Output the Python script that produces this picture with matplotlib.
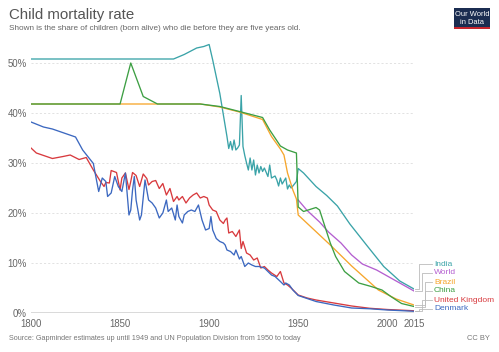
import matplotlib
matplotlib.use("Agg")
import matplotlib.pyplot as plt
from matplotlib.lines import Line2D
from matplotlib.patches import Rectangle

plt.rcParams['font.family'] = ['Liberation Sans', 'DejaVu Sans']

india_years = [1800, 1880, 1886, 1893, 1897, 1900, 1902, 1906, 1910, 1911, 1912, 1913, 1914, 1915, 1916, 1917,
               1918, 1919, 1920, 1921, 1922, 1923, 1924, 1925, 1926, 1927, 1928, 1929, 1930, 1931, 1933, 1934,
               1935, 1937, 1938, 1939, 1940, 1941, 1943, 1944, 1945, 1946, 1947, 1949, 1950, 1953, 1960, 1966,
               1972, 1979, 1989, 1998, 2007, 2015]
india_vals = [50.8, 50.8, 51.7, 53.0, 53.3, 53.7, 50.6, 43.9, 35.3, 32.9, 34.3, 32.6, 34.6, 32.6, 33.0, 33.6,
              43.5, 33.3, 31.5, 30.0, 28.6, 31.0, 28.6, 30.6, 27.6, 29.6, 28.0, 29.3, 28.3, 29.0, 27.3, 29.6,
              27.0, 27.4, 26.6, 25.4, 27.0, 25.8, 27.0, 24.8, 25.6, 25.0, 25.4, 26.3, 28.9, 28.0, 25.3, 23.5,
              21.4, 17.8, 13.3, 9.3, 6.4, 4.8]

world_years = [1950, 1955, 1962, 1967, 1974, 1980, 1986, 1994, 2002, 2015]
world_vals = [22.6, 20.5, 18.2, 16.2, 14.0, 11.6, 9.8, 8.6, 7.0, 4.4]

brazil_years = [1800, 1895, 1906, 1917, 1930, 1935, 1940, 1942, 1944, 1947, 1949, 1950, 1968, 1980, 1995,
                2005, 2015]
brazil_vals = [41.8, 41.8, 41.2, 40.2, 38.7, 35.3, 32.8, 31.6, 28.0, 24.6, 22.8, 19.6, 13.6, 9.4, 4.6,
               2.8, 1.6]

china_years = [1800, 1850, 1856, 1863, 1871, 1895, 1906, 1917, 1930, 1934, 1940, 1944, 1949, 1950, 1953,
               1960, 1962, 1965, 1968, 1971, 1976, 1984, 1991, 1997, 2002, 2008, 2015]
china_vals = [41.8, 41.8, 50.0, 43.3, 41.8, 41.8, 41.3, 40.3, 39.1, 36.6, 33.4, 32.6, 32.0, 21.2, 20.3,
              21.1, 20.6, 17.3, 14.0, 11.3, 8.3, 6.0, 5.3, 4.6, 3.3, 1.9, 1.3]

uk_years = [1800, 1803, 1812, 1818, 1822, 1827, 1831, 1835, 1839, 1841, 1842, 1844, 1845, 1848, 1850, 1851,
            1853, 1855, 1856, 1857, 1859, 1861, 1863, 1865, 1866, 1868, 1870, 1872, 1874, 1876, 1878, 1880,
            1882, 1883, 1885, 1887, 1889, 1891, 1893, 1895, 1897, 1899, 1900, 1902, 1904, 1906, 1908, 1909,
            1910, 1911, 1913, 1915, 1917, 1918, 1919, 1921, 1923, 1925, 1927, 1929, 1931, 1933, 1935, 1938,
            1940, 1942, 1944, 1946, 1948, 1950, 1955, 1960, 1970, 1980, 1990, 2000, 2015]
uk_vals = [33.0, 32.0, 30.9, 31.3, 31.6, 30.7, 31.1, 28.6, 26.3, 25.3, 26.1, 26.0, 28.5, 28.1, 24.6, 27.0,
           28.0, 24.7, 26.3, 28.1, 27.5, 25.3, 27.8, 26.9, 25.6, 26.3, 26.5, 24.9, 25.9, 23.6, 24.9, 22.3,
           23.3, 22.6, 23.3, 22.0, 23.0, 23.6, 24.0, 23.0, 23.3, 23.0, 21.6, 20.6, 20.3, 18.6, 17.9, 18.6,
           19.0, 16.0, 16.3, 15.3, 16.6, 12.9, 14.3, 12.0, 11.6, 10.6, 11.0, 9.0, 9.3, 8.6, 8.0, 7.3,
           8.3, 6.0, 5.6, 5.0, 4.3, 3.6, 3.0, 2.6, 2.0, 1.4, 0.95, 0.7, 0.45]

denmark_years = [1800, 1807, 1812, 1825, 1829, 1835, 1836, 1838, 1840, 1842, 1843, 1845, 1847, 1849, 1851,
                 1853, 1855, 1856, 1857, 1858, 1859, 1861, 1862, 1864, 1866, 1868, 1870, 1872, 1874, 1876,
                 1877, 1879, 1881, 1882, 1883, 1885, 1886, 1888, 1890, 1892, 1894, 1896, 1898, 1900, 1901,
                 1902, 1904, 1906, 1908, 1909, 1910, 1912, 1914, 1915, 1917, 1918, 1920, 1922, 1924, 1926,
                 1928, 1931, 1933, 1935, 1937, 1940, 1942, 1943, 1945, 1947, 1950, 1955, 1960, 1970, 1980,
                 1990, 2000, 2015]
denmark_vals = [38.2, 37.2, 36.8, 35.2, 32.6, 29.9, 28.0, 24.3, 27.0, 26.3, 23.3, 24.0, 27.3, 25.3, 24.3,
                28.0, 19.6, 20.6, 24.6, 27.3, 22.6, 18.6, 19.6, 26.6, 22.6, 22.0, 21.0, 19.0, 20.0, 22.6,
                20.3, 21.0, 18.6, 21.6, 19.3, 18.0, 19.6, 20.3, 20.6, 20.3, 21.6, 18.6, 16.6, 16.9, 19.3,
                16.6, 14.9, 14.3, 14.0, 13.6, 12.6, 12.3, 11.6, 12.6, 10.8, 11.3, 9.3, 10.0, 9.6, 9.3,
                9.3, 9.0, 8.3, 7.6, 7.3, 6.3, 5.6, 6.0, 5.6, 4.6, 3.5, 2.9, 2.3, 1.6, 1.0,
                0.85, 0.6, 0.35]

series_names = ["India", "World", "Brazil", "China", "United Kingdom", "Denmark"]
series_data = [(india_years, india_vals), (world_years, world_vals), (brazil_years, brazil_vals),
               (china_years, china_vals), (uk_years, uk_vals), (denmark_years, denmark_vals)]
colors = ["#3aa3a8", "#b45fd0", "#f6a62c", "#3d9f43", "#d83a3e", "#3c68c0"]

x_ticks = [1800, 1850, 1900, 1950, 2000, 2015]
y_ticks = [0, 10, 20, 30, 40, 50]
y_tick_labels = ["0%", "10%", "20%", "30%", "40%", "50%"]

W, H = 499, 352
fig = plt.figure(figsize=(W / 100, H / 100), dpi=100)
ax = fig.add_axes([31 / W, 39 / H, 383 / W, 275 / H])
ax.set_xlim(1800, 2015)
ax.set_ylim(0, 55)

for y in y_ticks[1:]:
    ax.axhline(y, color="#dddddd", lw=0.6, ls=(0, (2.5, 2.5)), zorder=0)
ax.axhline(0, color="#d6d6d6", lw=2.0, zorder=1)

draw_order = [2, 3, 0, 1, 4, 5]
for i in draw_order:
    xs, ys = series_data[i]
    ax.plot(xs, ys, color=colors[i], lw=0.95, zorder=3 + i * 0.1, solid_joinstyle="round")

for s in ax.spines.values():
    s.set_visible(False)
ax.set_xticks(x_ticks)
ax.set_xticklabels([str(t) for t in x_ticks])
ax.set_yticks(y_ticks)
ax.set_yticklabels(y_tick_labels)
ax.tick_params(length=0, labelsize=6.9, colors="#666666", pad=3)
ax.tick_params(axis="x", pad=4)

# Labels at right with connectors
label_y = [264, 273, 282, 291, 300, 309]
elbow_x = [419, 422, 425, 425, 422, 419]
text_x = 434
for i, name in enumerate(series_names):
    xs, ys = series_data[i]
    px, py = ax.transData.transform((xs[-1], ys[-1]))
    py_top = H - py
    ex = elbow_x[i]
    lx = [px + 1, ex, ex, text_x - 2]
    ly = [py_top, py_top, label_y[i], label_y[i]]
    fig.add_artist(Line2D([v / W for v in lx], [1 - v / H for v in ly], transform=fig.transFigure,
                          color="#bbbbbb", lw=0.6))
    fig.text(text_x / W, 1 - label_y[i] / H, name, color=colors[i], fontsize=6.0, va="center", ha="left")

fig.text(9 / W, 1 - 15.5 / H, "Child mortality rate", fontsize=10.8, color="#555555", va="center", ha="left")
fig.text(9 / W, 1 - 28.5 / H, "Shown is the share of children (born alive) who die before they are five years old.",
         fontsize=5.9, color="#666666", va="center", ha="left")
fig.text(9 / W, 1 - 338.5 / H,
         "Source: Gapminder estimates up until 1949 and UN Population Division from 1950 to today",
         fontsize=5.25, color="#777777", va="center", ha="left")
fig.text(490 / W, 1 - 338.5 / H, "CC BY", fontsize=5.4, color="#777777", va="center", ha="right")

# Logo
fig.add_artist(Rectangle((454 / W, 1 - 29 / H), 36 / W, 21 / H, transform=fig.transFigure,
                         facecolor="#1b2d51", edgecolor="none"))
fig.add_artist(Rectangle((454 / W, 1 - 29 / H), 36 / W, 2 / H, transform=fig.transFigure,
                         facecolor="#c7262e", edgecolor="none"))
fig.text(472 / W, 1 - 14.5 / H, "Our World", fontsize=5.4, color="white", va="center", ha="center")
fig.text(472 / W, 1 - 22 / H, "in Data", fontsize=5.4, color="white", va="center", ha="center")

fig.savefig("out.png", dpi=100)
